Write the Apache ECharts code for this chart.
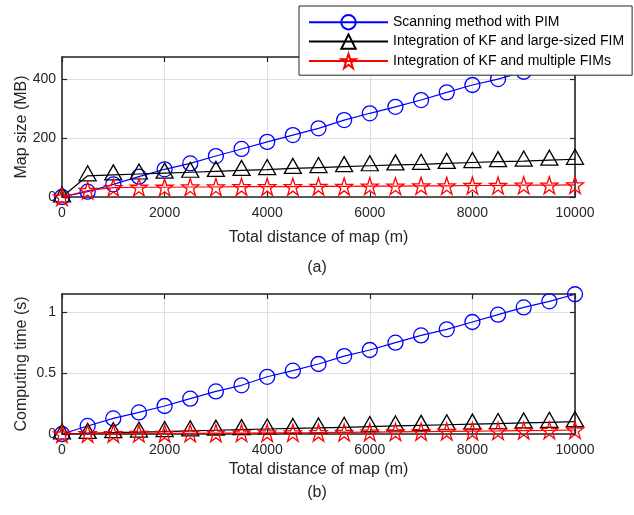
<!DOCTYPE html>
<html>
<head>
<meta charset="utf-8">
<script src="https://cdn.jsdelivr.net/npm/echarts@6/dist/echarts.min.js"></script>
<style>
html,body{margin:0;padding:0;background:#fff;}
#chart{width:634px;height:515px;}
</style>
</head>
<body>
<div id="chart"></div>
<script>
// ---- data ----
var distance = [0,500,1000,1500,2000,2500,3000,3500,4000,4500,5000,5500,6000,6500,7000,7500,8000,8500,9000,9500,10000];
var xTicks = [0,2000,4000,6000,8000,10000];
var seriesNames = ['Scanning method with PIM','Integration of KF and large-sized FIM','Integration of KF and multiple FIMs'];
var mapSizePIM      = [0,18,43,69,94,114,139,163,187,210,233,261,284,306,329,355,380,400,425,450,475];
var mapSizeLargeFIM = [0,72,75,78,81,84,87,90,93,97,100,103,106,109,111,114,117,120,122,125,128];
var mapSizeMultiFIM = [0,22,32,33,33,34,34,35,35,35,36,36,37,37,38,38,39,39,40,40,41];
var timePIM      = [0,0.066,0.128,0.177,0.23,0.29,0.35,0.40,0.47,0.52,0.575,0.64,0.69,0.75,0.81,0.86,0.92,0.98,1.04,1.09,1.148];
var timeLargeFIM = [0,0.005,0.011,0.016,0.02,0.026,0.031,0.036,0.041,0.046,0.05,0.055,0.061,0.066,0.071,0.076,0.081,0.086,0.091,0.096,0.101];
var timeMultiFIM = [0,0.002,0.003,0.004,0.005,0.006,0.007,0.008,0.009,0.010,0.011,0.013,0.015,0.017,0.019,0.021,0.023,0.025,0.028,0.030,0.033];
var mapYTicks = [0,200,400];
var timeYTicks = [0,0.5,1];

function pairs(ys){ return distance.map(function(x,i){ return [x, ys[i]]; }); }

var FONT = '"Liberation Sans", Arial, Helvetica, sans-serif';
var TXT = '#262626';
var STAR = 'path://M100,0 L122.45,69.1 L195.1,69.1 L136.3,111.8 L158.8,180.9 L100,138.2 L41.2,180.9 L63.7,111.8 L4.9,69.1 L77.55,69.1 Z';

var styles = [
  {color:'#0000ff', symbol:'circle', size:15, offset:[0,0]},
  {color:'#000000', symbol:'triangle', size:[17,15], offset:[0,-2.5]},
  {color:'#ff0000', symbol:STAR, size:17, offset:[0,0]}
];

function mkSeries(name, idx, ys, axisIdx){
  var s = styles[idx];
  return {
    name: name, type:'line', data: pairs(ys),
    xAxisIndex: axisIdx*2, yAxisIndex: axisIdx*2,
    symbol: s.symbol, symbolSize: s.size, symbolOffset: s.offset, showAllSymbol:true,
    lineStyle:{color:s.color, width:1.2},
    itemStyle:{color:'rgba(0,0,0,0)', borderColor:s.color, borderWidth:1.3},
    emphasis:{disabled:true},
    clip:true, z: 3+idx
  };
}
function plain(v){ return String(v); }

function xAxes(gi, nameGap){
  return [{
    type:'value', gridIndex:gi, position:'bottom', min:0, max:10000, interval:2000,
    axisLine:{show:true, onZero:false, lineStyle:{color:TXT, width:1.6}},
    axisTick:{show:true, inside:true, length:5, lineStyle:{color:TXT, width:1.2}},
    axisLabel:{color:TXT, fontSize:14, fontFamily:FONT, margin:9, formatter:plain},
    splitLine:{show:true, lineStyle:{color:'#dedede', width:1}},
    name:'Total distance of map (m)', nameLocation:'middle', nameGap:nameGap, nameMoveOverlap:false,
    nameTextStyle:{color:TXT, fontSize:16, fontFamily:FONT}
  },{
    type:'value', gridIndex:gi, position:'top', min:0, max:10000, interval:2000,
    axisLine:{show:true, onZero:false, lineStyle:{color:TXT, width:1.6}},
    axisTick:{show:true, inside:true, length:5, lineStyle:{color:TXT, width:1.2}},
    axisLabel:{show:false}, splitLine:{show:false}
  }];
}
function yAxes(gi, max, interval, name){
  return [{
    type:'value', gridIndex:gi, position:'left', min:0, max:max, interval:interval,
    axisLine:{show:true, onZero:false, lineStyle:{color:TXT, width:1.6}},
    axisTick:{show:true, inside:true, length:5, lineStyle:{color:TXT, width:1.2}},
    axisLabel:{color:TXT, fontSize:14, fontFamily:FONT, margin:6, showMaxLabel:false, formatter:plain},
    splitLine:{show:true, lineStyle:{color:'#dedede', width:1}},
    name:name, nameLocation:'middle', nameGap:32, nameRotate:90, nameMoveOverlap:false,
    nameTextStyle:{color:TXT, fontSize:16, fontFamily:FONT}
  },{
    type:'value', gridIndex:gi, position:'right', min:0, max:max, interval:interval,
    axisLine:{show:true, onZero:false, lineStyle:{color:TXT, width:1.6}},
    axisTick:{show:true, inside:true, length:5, lineStyle:{color:TXT, width:1.2}},
    axisLabel:{show:false}, splitLine:{show:false}
  }];
}

var chart = echarts.init(document.getElementById('chart'), null, {renderer:'canvas'});
var option = {
  animation:false,
  backgroundColor:'#fff',
  textStyle:{fontFamily:FONT},
  grid:[
    {left:62, top:57, width:513, height:140, containLabel:false},
    {left:62, top:294, width:513, height:140, containLabel:false}
  ],
  xAxis: xAxes(0, 33).concat(xAxes(1, 28)),
  yAxis: yAxes(0, 475, 200, 'Map size (MB)').concat(yAxes(1, 1.15, 0.5, 'Computing time (s)')),
  legend:{
    data: seriesNames, orient:'vertical', left:299, top:6,
    itemWidth:79, itemHeight:18, itemGap:3,
    padding:[8,8,6,9],
    backgroundColor:'#fff', borderColor:TXT, borderWidth:1, borderRadius:0,
    textStyle:{color:'#000', fontSize:14, fontFamily:FONT},
    selectedMode:false, z:20
  },
  graphic:[
    {type:'text', left:'center', top:260, style:{text:'(a)', fill:TXT, font:'16px '+FONT}},
    {type:'text', left:'center', top:485, style:{text:'(b)', fill:TXT, font:'16px '+FONT}}
  ],
  series:[
    mkSeries(seriesNames[0],0,mapSizePIM,0),
    mkSeries(seriesNames[1],1,mapSizeLargeFIM,0),
    mkSeries(seriesNames[2],2,mapSizeMultiFIM,0),
    mkSeries(seriesNames[0],0,timePIM,1),
    mkSeries(seriesNames[1],1,timeLargeFIM,1),
    mkSeries(seriesNames[2],2,timeMultiFIM,1)
  ]
};
chart.setOption(option);
</script>
</body>
</html>
